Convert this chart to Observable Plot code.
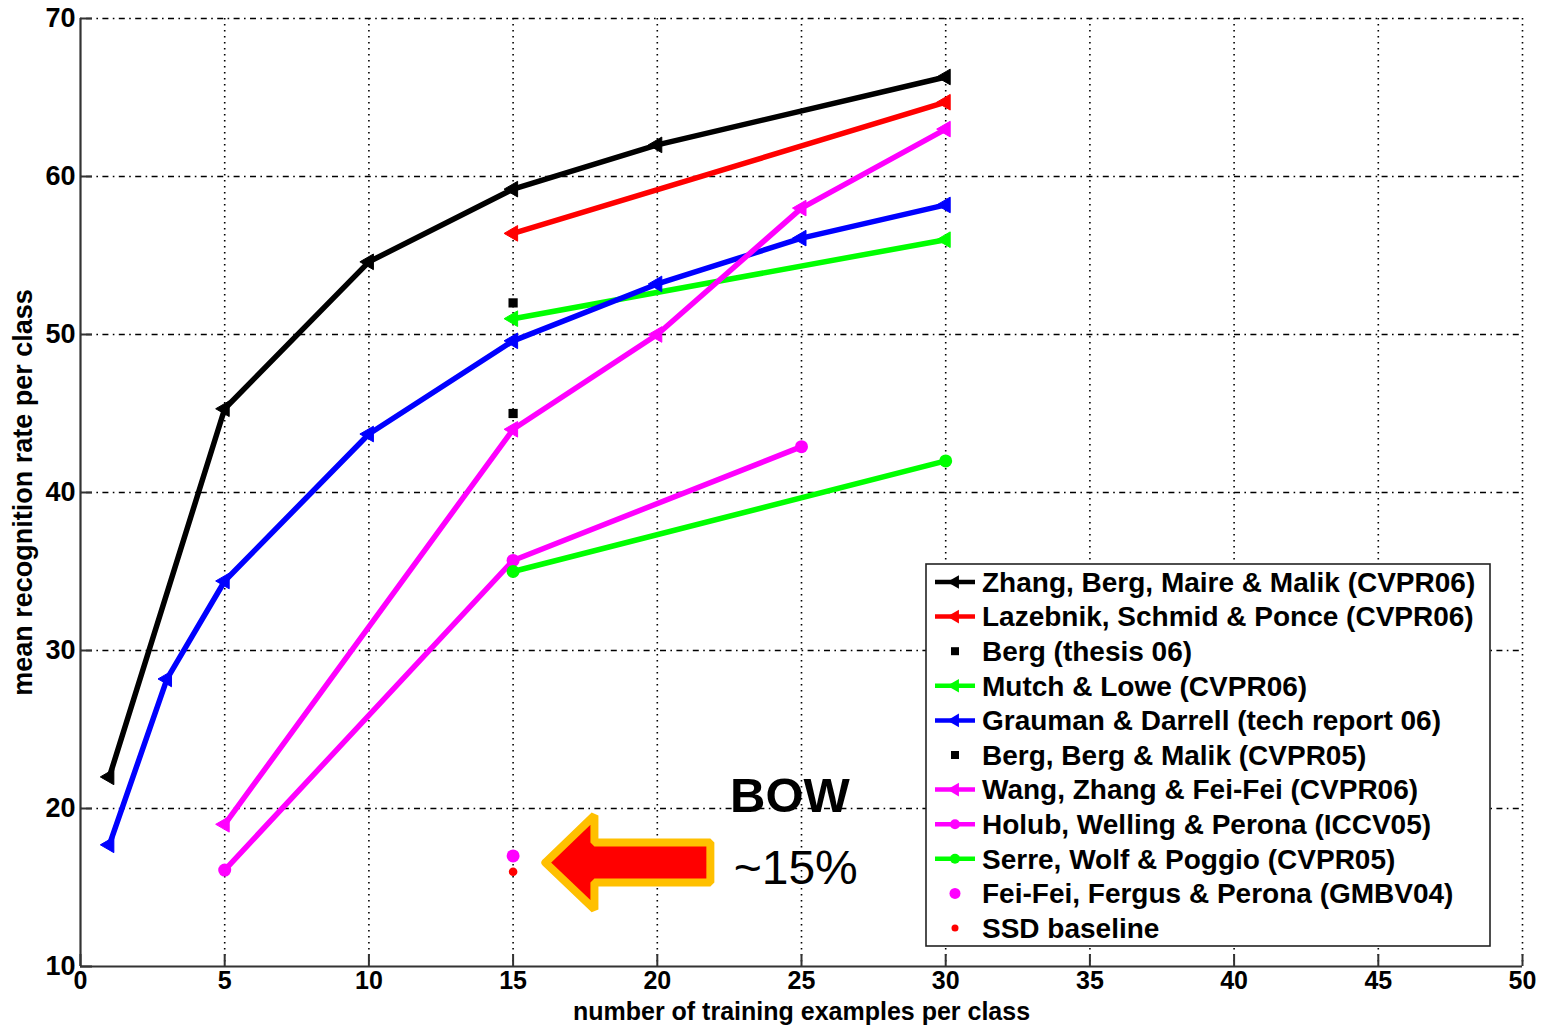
<!DOCTYPE html>
<html><head><meta charset="utf-8">
<script src="https://cdn.jsdelivr.net/npm/d3@7"></script>
<script src="https://cdn.jsdelivr.net/npm/@observablehq/plot@0.6"></script>
<style>
body{margin:0;background:#fff;}
#wrap{position:relative;width:1547px;height:1032px;font-family:"Liberation Sans",Arial,sans-serif;}
#legend{position:absolute;left:925px;top:563px;}
</style></head><body><div id="wrap"></div>
<script>
// ---- data ----
const xTicks = [0,5,10,15,20,25,30,35,40,45,50];
const yTicks = [10,20,30,40,50,60,70];
const xLabel = "number of training examples per class";
const yLabel = "mean recognition rate per class";

const seriesNames = [
  "Zhang, Berg, Maire & Malik (CVPR06)",
  "Lazebnik, Schmid & Ponce (CVPR06)",
  "Berg (thesis 06)",
  "Mutch & Lowe (CVPR06)",
  "Grauman & Darrell (tech report 06)",
  "Berg, Berg & Malik (CVPR05)",
  "Wang, Zhang & Fei-Fei (CVPR06)",
  "Holub, Welling & Perona (ICCV05)",
  "Serre, Wolf & Poggio (CVPR05)",
  "Fei-Fei, Fergus & Perona (GMBV04)",
  "SSD baseline"
];
const seriesColors = ["#000000","#ff0000","#000000","#00ff00","#0000ff","#000000","#ff00ff","#ff00ff","#00ff00","#ff00ff","#ff0000"];
const seriesMarkers = ["triangle","triangle","square","triangle","triangle","square","triangle","circle","circle","circle","dot"];
const seriesHasLine = [true,true,false,true,true,false,true,true,true,false,false];

const zhangX = [1,5,10,15,20,30];
const zhangY = [22.0,45.3,54.6,59.2,62.0,66.3];
const lazebnikX = [15,30];
const lazebnikY = [56.4,64.7];
const bergThesisX = [15];
const bergThesisY = [52.0];
const mutchX = [15,30];
const mutchY = [51.0,56.0];
const graumanX = [1,3,5,10,15,20,25,30];
const graumanY = [17.7,28.2,34.4,43.7,49.6,53.2,56.1,58.2];
const bbmX = [15];
const bbmY = [45.0];
const wangX = [5,15,20,25,30];
const wangY = [19.0,44.0,50.0,58.0,63.0];
const holubX = [5,15,25];
const holubY = [16.1,35.7,42.9];
const serreX = [15,30];
const serreY = [35.0,42.0];
const feifeiX = [15];
const feifeiY = [17.0];
const ssdX = [15];
const ssdY = [16.0];

const seriesX = [zhangX,lazebnikX,bergThesisX,mutchX,graumanX,bbmX,wangX,holubX,serreX,feifeiX,ssdX];
const seriesY = [zhangY,lazebnikY,bergThesisY,mutchY,graumanY,bbmY,wangY,holubY,serreY,feifeiY,ssdY];

// annotation
const arrowX = [16.12,17.82,17.82,21.84,21.84,17.82,17.82,16.12];
const arrowY = [16.58,19.56,17.85,17.85,15.32,15.32,13.61,16.58];
const noteText = ["BOW","~15%"];
const noteX = [24.6,24.8];
const noteY = [20.8,16.2];

// ---- build ----
const FONT = '"Liberation Sans", Arial, sans-serif';
const rows = [];
seriesNames.forEach((s,i)=>seriesX[i].forEach((x,j)=>rows.push({series:s, idx:i, x, y:seriesY[i][j]})));

const marks = [
  Plot.gridX(xTicks.filter(d=>d>0), {stroke:"#000", strokeOpacity:1, strokeWidth:1.6, strokeDasharray:"1.6,4.4"}),
  Plot.gridY(yTicks.filter(d=>d>10), {stroke:"#000", strokeOpacity:1, strokeWidth:1.6, strokeDasharray:"1.6,4.4,6,4.4"}),
  Plot.ruleX([xTicks[0]], {stroke:"#333", strokeWidth:2.2}),
  Plot.ruleY([yTicks[0]], {stroke:"#333", strokeWidth:2.2}),
  Plot.axisX({ticks:xTicks, tickSize:-12, tickPadding:17, stroke:"#333", strokeWidth:2, fontSize:25, fontWeight:"bold", fill:"#000", fontFamily:FONT, label:null}),
  Plot.axisY({ticks:yTicks, tickSize:-12, tickPadding:17, stroke:"#333", strokeWidth:2, fontSize:27, fontWeight:"bold", fill:"#000", fontFamily:FONT, label:null}),
  Plot.text([xLabel], {frameAnchor:"bottom", dy:53, fontSize:25, fontWeight:"bold", fill:"#000", fontFamily:FONT}),
  Plot.text([yLabel], {frameAnchor:"left", textAnchor:"middle", rotate:-90, dx:-57, fontSize:27, fontWeight:"bold", fill:"#000", fontFamily:FONT})
];

seriesNames.forEach((s,i)=>{
  const data = rows.filter(r=>r.idx===i);
  const c = seriesColors[i];
  if (seriesHasLine[i]) marks.push(Plot.line(data,{x:"x",y:"y",stroke:c,strokeWidth:5.5,strokeLinejoin:"round"}));
  const m = seriesMarkers[i];
  if (m==="triangle") marks.push(Plot.dot(data,{x:"x",y:"y",symbol:"triangle",r:5.8,rotate:-90,fill:c,stroke:c,strokeWidth:1}));
  else if (m==="square") marks.push(Plot.dot(data,{x:"x",y:"y",symbol:"square",r:5.2,fill:c}));
  else if (m==="circle") marks.push(Plot.dot(data,{x:"x",y:"y",r:6.5,fill:c}));
  else marks.push(Plot.dot(data,{x:"x",y:"y",r:4.3,fill:c}));
});

const arrowData = arrowX.map((x,i)=>({x, y:arrowY[i]}));
marks.push(Plot.line(arrowData,{x:"x",y:"y",fill:"#ff0000",stroke:"#ffc000",strokeWidth:8,strokeLinejoin:"miter",curve:"linear"}));
const notes = noteText.map((t,i)=>({t,x:noteX[i],y:noteY[i]}));
marks.push(Plot.text(notes.slice(0,1),{x:"x",y:"y",text:"t",fontSize:49,fontWeight:"bold",fill:"#000",fontFamily:FONT}));
marks.push(Plot.text(notes.slice(1),{x:"x",y:"y",text:"t",fontSize:48,fill:"#000",fontFamily:FONT}));

const chart = Plot.plot({
  width:1547, height:1032,
  marginLeft:80, marginRight:25, marginTop:18, marginBottom:66,
  x:{domain:[0,50]}, y:{domain:[10,70]},
  style:{background:"#fff", color:"#000", fontFamily:FONT},
  marks
});
const wrap = document.getElementById("wrap");
wrap.appendChild(chart);

// ---- legend ----
const LW = 566, LH = 384;
const lg = d3.select(wrap).append("svg").attr("id","legend").attr("width",LW).attr("height",LH);
lg.append("rect").attr("x",1).attr("y",1).attr("width",LW-2).attr("height",LH-2).attr("fill","#fff").attr("stroke","#222").attr("stroke-width",1.6);
seriesNames.forEach((s,i)=>{
  const y = 19 + i*34.6;
  const g = lg.append("g").attr("transform",`translate(0,${y})`);
  const c = seriesColors[i];
  if (seriesHasLine[i]) g.append("line").attr("x1",10).attr("x2",50).attr("y1",0).attr("y2",0).attr("stroke",c).attr("stroke-width",4.5);
  const m = seriesMarkers[i];
  if (m==="triangle") g.append("path").attr("d",d3.symbol(d3.symbolTriangle,80)()).attr("transform","translate(30,0) rotate(-90)").attr("fill",c);
  else if (m==="square") g.append("rect").attr("x",26).attr("y",-4).attr("width",8).attr("height",8).attr("fill",c);
  else if (m==="circle") g.append("circle").attr("cx",30).attr("cy",0).attr("r",!seriesHasLine[i]?5.5:5).attr("fill",c);
  else g.append("circle").attr("cx",30).attr("cy",0).attr("r",3.5).attr("fill",c);
  g.append("text").attr("x",57).attr("y",0).attr("dy","0.35em").attr("font-size",28).attr("font-weight","bold").attr("font-family",FONT).attr("fill","#000").text(s);
});
</script>
</body></html>
